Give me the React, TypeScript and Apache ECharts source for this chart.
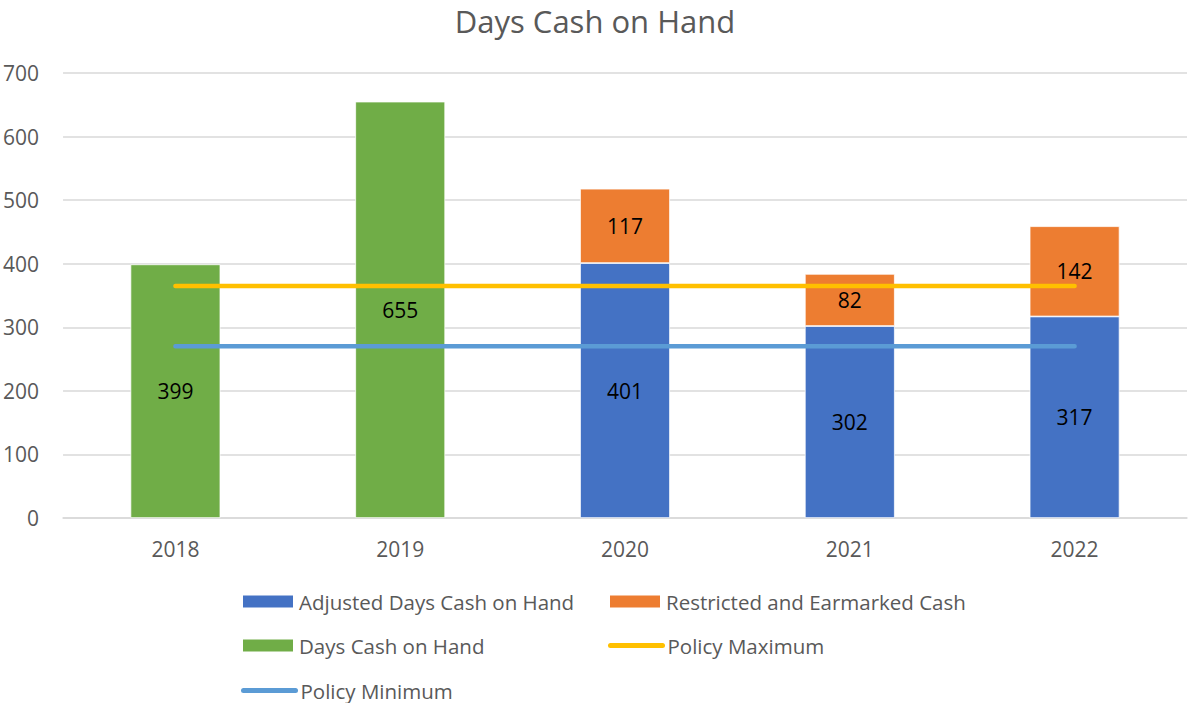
import React, { useEffect, useRef } from "react";
import * as echarts from "echarts";

const categories = ["2018", "2019", "2020", "2021", "2022"];
const adjustedDays = [null, null, 401, 302, 317];
const restrictedCash = [null, null, 117, 82, 142];
const daysCash = [399, 655, null, null, null];
const policyMax = [365, 365, 365, 365, 365];
const policyMin = [270, 270, 270, 270, 270];

const FONT = "'Open Sans', 'Noto Sans', sans-serif";
const GREY = "#595959";

export default function App() {
  const ref = useRef<HTMLDivElement>(null);
  useEffect(() => {
    if (!ref.current) return;
    const chart = echarts.init(ref.current, null, { renderer: "svg" });
    const labelCfg = {
      show: true,
      position: "inside",
      color: "#000",
      fontSize: 21,
      fontFamily: FONT,
    };
    const legendBase = {
      itemWidth: 52,
      itemHeight: 14,
      textStyle: { color: GREY, fontSize: 20.5, fontFamily: FONT },
      padding: 0,
    };
    const lineLegendItem = (name: string) => ({
      name,
      itemStyle: { opacity: 0 },
      lineStyle: { width: 5, cap: "round" },
    });
    chart.setOption({
      animation: false,
      title: {
        text: "Days Cash on Hand",
        left: "center",
        top: 5,
        padding: 0,
        textStyle: { color: GREY, fontSize: 31, lineHeight: 31, fontWeight: "normal", fontFamily: FONT },
      },
      grid: { left: 62, right: 3, top: 73, bottom: 185, containLabel: false },
      xAxis: {
        type: "category",
        data: categories,
        axisTick: { show: false },
        axisLine: { lineStyle: { color: "#d9d9d9", width: 1.5 } },
        axisLabel: { color: GREY, fontSize: 21, fontFamily: FONT, margin: 20 },
      },
      yAxis: {
        type: "value",
        min: 0,
        max: 700,
        interval: 100,
        axisLine: { show: false },
        axisTick: { show: false },
        splitLine: { lineStyle: { color: "#d9d9d9", width: 1.5 } },
        axisLabel: { color: GREY, fontSize: 21, fontFamily: FONT, margin: 24 },
      },
      legend: [
        { ...legendBase, left: 241, top: 591, icon: "rect", data: ["Adjusted Days Cash on Hand"] },
        { ...legendBase, left: 608, top: 591, icon: "rect", data: ["Restricted and Earmarked Cash"] },
        { ...legendBase, left: 241, top: 635, icon: "rect", data: ["Days Cash on Hand"] },
        { ...legendBase, left: 608, top: 635, data: [lineLegendItem("Policy Maximum")] },
        { ...legendBase, left: 241, top: 680, data: [lineLegendItem("Policy Minimum")] },
      ],
      series: [
        {
          name: "Adjusted Days Cash on Hand",
          type: "bar",
          stack: "s",
          barWidth: "40%",
          data: adjustedDays,
          itemStyle: { color: "#4472C4", borderColor: "#fff", borderWidth: 0.75 },
          label: labelCfg,
        },
        {
          name: "Restricted and Earmarked Cash",
          type: "bar",
          stack: "s",
          barWidth: "40%",
          data: restrictedCash,
          itemStyle: { color: "#ED7D31", borderColor: "#fff", borderWidth: 0.75 },
          label: labelCfg,
        },
        {
          name: "Days Cash on Hand",
          type: "bar",
          stack: "s",
          barWidth: "40%",
          data: daysCash,
          itemStyle: { color: "#70AD47", borderColor: "#fff", borderWidth: 0.75 },
          label: labelCfg,
        },
        {
          name: "Policy Maximum",
          type: "line",
          data: policyMax,
          symbol: "none",
          z: 5,
          itemStyle: { color: "#FFC000" },
          lineStyle: { color: "#FFC000", width: 4.5, cap: "round" },
        },
        {
          name: "Policy Minimum",
          type: "line",
          data: policyMin,
          symbol: "none",
          z: 5,
          itemStyle: { color: "#5B9BD5" },
          lineStyle: { color: "#5B9BD5", width: 4.5, cap: "round" },
        },
      ],
    });
    return () => chart.dispose();
  }, []);
  return <div ref={ref} style={{ width: 1190, height: 703, position: "absolute", left: 0, top: 0 }} />;
}
